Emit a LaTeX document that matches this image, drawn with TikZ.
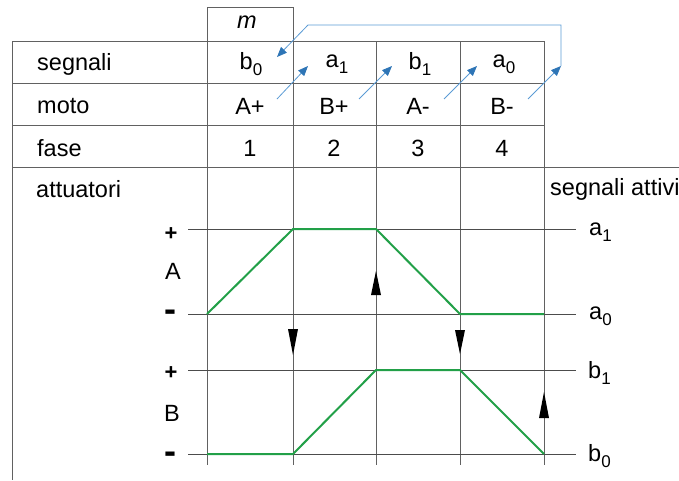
\documentclass[tikz,border=0pt]{standalone}
\usepackage{fontspec}
\setmainfont{Liberation Sans}
\usetikzlibrary{arrows.meta}
\definecolor{wavegreen}{RGB}{34,160,72}
\definecolor{flowblue}{RGB}{91,155,213}
\definecolor{tipblue}{RGB}{46,117,182}
\newcommand\lowidx[1]{\raisebox{-0.45ex}{\fontsize{17}{17}\selectfont #1}}
\begin{document}
\begin{tikzpicture}[x=1pt,y=-1pt,
  grid/.style={draw=black!62, line width=0.9pt},
  sigline/.style={draw=black!70, line width=0.9pt},
  wave/.style={draw=wavegreen, line width=2pt, line join=round},
  flow/.style={draw=flowblue, line width=0.8pt, -{Triangle[length=10pt,width=8pt,fill=tipblue,color=tipblue]}},
  lbl/.style={font=\fontsize{23.5}{28}\selectfont, inner sep=0pt},
  plus/.style={font=\fontsize{22}{27}\selectfont\bfseries, inner sep=0pt},
  minus/.style={font=\fontsize{36}{40}\selectfont\bfseries, inner sep=0pt},
  tri/.style={fill=black}]
\useasboundingbox (0,0) rectangle (679,480);
% grid
\draw[grid] (207,7) -- (293,7);
\draw[grid] (207,7) -- (207,465);
\draw[grid] (293,7) -- (293,465);
\draw[grid] (376,41) -- (376,465);
\draw[grid] (460,41) -- (460,465);
\draw[grid] (544,41) -- (544,465);
\draw[grid] (12,41) -- (12,480);
\draw[grid] (12,41) -- (544,41);
\draw[grid] (12,83) -- (544,83);
\draw[grid] (12,125) -- (544,125);
\draw[grid] (12,167) -- (679,167);
% signal lines
\draw[sigline] (188,229) -- (576,229);
\draw[sigline] (188,314) -- (576,314);
\draw[sigline] (188,370) -- (576,370);
\draw[sigline] (188,454) -- (576,454);
% row labels
\node[lbl,anchor=west] (segnali) at (37,64) {segnali};
\node[lbl,anchor=west] (moto) at (37,106) {moto};
\node[lbl,anchor=west] (fase) at (37,148) {fase};
\node[lbl,anchor=west] (attuatori) at (36,189) {attuatori};
\node[lbl,anchor=west] (attivi) at (550,189) {segnali attivi};
\node[lbl,font=\fontsize{23.5}{28}\selectfont\itshape] (m) at (247,22) {m};
% table entries
\node[lbl] (s1) at (251,64) {b\lowidx{0}};
\node[lbl] (s2) at (337,64) {a\lowidx{1}};
\node[lbl] (s3) at (420,64) {b\lowidx{1}};
\node[lbl] (s4) at (504,64) {a\lowidx{0}};
\node[lbl] (m1) at (250,106) {A+};
\node[lbl] (m2) at (334,106) {B+};
\node[lbl] (m3) at (418,106) {A-};
\node[lbl] (m4) at (502,106) {B-};
\node[lbl] (f1) at (250,148) {1};
\node[lbl] (f2) at (334,148) {2};
\node[lbl] (f3) at (418,148) {3};
\node[lbl] (f4) at (502,148) {4};
% actuator labels
\node[plus] (Ap) at (171,234) {+};
\node[lbl] (A) at (173,271) {A};
\node[minus] (Am) at (170,316) {-};
\node[plus] (Bp) at (171,373) {+};
\node[lbl] (B) at (172,413) {B};
\node[minus] (Bm) at (170,458) {-};
% right labels
\node[lbl,anchor=west] (ra1) at (589,232) {a\lowidx{1}};
\node[lbl,anchor=west] (ra0) at (589,316) {a\lowidx{0}};
\node[lbl,anchor=west] (rb1) at (588,373) {b\lowidx{1}};
\node[lbl,anchor=west] (rb0) at (588,456) {b\lowidx{0}};
% waveforms
\draw[wave] (207,314) -- (293,229) -- (376,229) -- (460,314) -- (544,314);
\draw[wave] (207,454) -- (293,454) -- (376,370) -- (460,370) -- (544,454);
% black arrows
\fill[tri] (293,355) -- (288,329) -- (298,329) -- cycle;
\fill[tri] (376,271) -- (371,295) -- (381,295) -- cycle;
\fill[tri] (460,354) -- (455,330) -- (465,330) -- cycle;
\fill[tri] (544,392) -- (539,418) -- (549,418) -- cycle;
% flow arrows
\coordinate (p1) at (277,99); \coordinate (q1) at (308,66);
\coordinate (p2) at (359,99); \coordinate (q2) at (392,66);
\coordinate (p3) at (444,99); \coordinate (q3) at (477,66);
\coordinate (p4) at (528,99); \coordinate (q4) at (561,66);
\coordinate (r1) at (561,25); \coordinate (r2) at (308,25);
\coordinate (q0) at (277,57);
\draw[flow] (p1) -- (q1);
\draw[flow] (p2) -- (q2);
\draw[flow] (p3) -- (q3);
\draw[flow] (p4) -- (q4);
\draw[flow] (q4) -- (r1) -- (r2) -- (q0);
\end{tikzpicture}
\end{document}
